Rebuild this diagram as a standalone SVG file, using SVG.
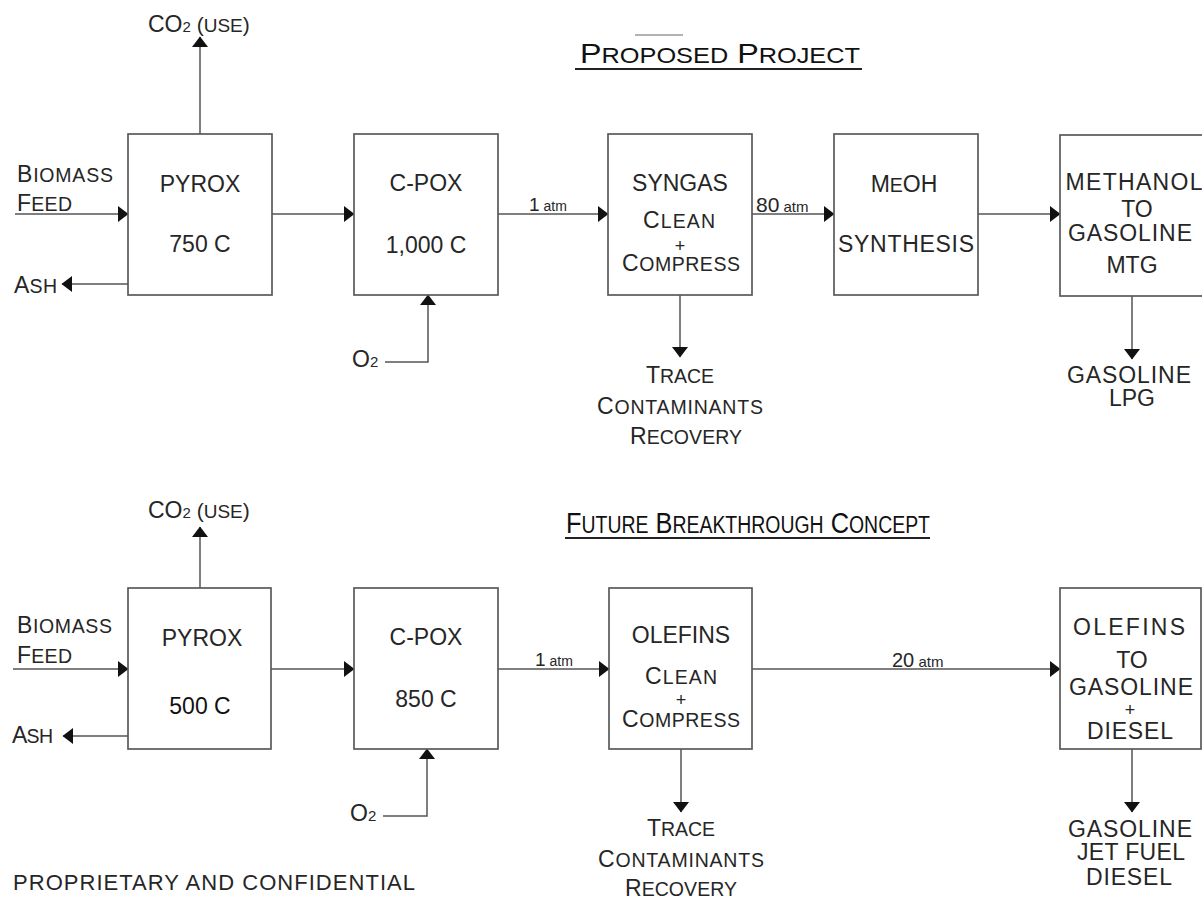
<svg xmlns="http://www.w3.org/2000/svg" width="1202" height="907" viewBox="0 0 1202 907">
<style>
.box{fill:#fff;stroke:#5a5a5a;stroke-width:1.7}
.ln{fill:none;stroke:#555;stroke-width:1.5}
.arr{marker-end:url(#ah)}
.t{font-family:"Liberation Sans",Arial,sans-serif;font-size:23px;fill:#262626;text-anchor:middle}
.l{text-anchor:start}
.s{font-size:19.5px}
.pl{font-size:18px}
.ttl{font-family:"Liberation Sans",Arial,sans-serif;font-size:28px;fill:#111;text-anchor:start}
.ts{font-size:22px}
.ul{stroke:#222;stroke-width:2.2}
</style>
<defs>
<marker id="ah" markerUnits="userSpaceOnUse" markerWidth="11" markerHeight="16" refX="10" refY="8" orient="auto" viewBox="0 0 11 16"><path d="M0,0 L10.5,8 L0,16 z" fill="#111"/></marker>
</defs>
<rect width="1202" height="907" fill="#fff"/>

<!-- titles -->
<g id="title-top">
<line x1="635" y1="35" x2="683" y2="35" stroke="#999" stroke-width="1.5"/>
<text class="ttl" x="580" y="63" textLength="280" lengthAdjust="spacingAndGlyphs">P<tspan class="ts">ROPOSED</tspan> P<tspan class="ts">ROJECT</tspan></text>
<line class="ul" x1="575" y1="69" x2="862" y2="69"/>
</g>
<g id="title-bottom">
<text class="ttl" x="566" y="533" textLength="364" lengthAdjust="spacingAndGlyphs" style="font-size:30px">F<tspan style="font-size:23px">UTURE</tspan> B<tspan style="font-size:23px">REAKTHROUGH</tspan> C<tspan style="font-size:23px">ONCEPT</tspan></text>
<line class="ul" x1="565" y1="538" x2="930" y2="538"/>
</g>

<!-- connectors -->
<g id="connectors">
<path class="ln arr" d="M15,214 H128"/>
<path class="ln arr" d="M128,284 H62"/>
<path class="ln arr" d="M200,134 V37"/>
<path class="ln arr" d="M272,214 H354"/>
<path class="ln arr" d="M385,362 H428 V295"/>
<path class="ln arr" d="M498,214 H608"/>
<path class="ln arr" d="M752,214 H834"/>
<path class="ln arr" d="M978,214 H1060"/>
<path class="ln arr" d="M680,295 V357"/>
<path class="ln arr" d="M1132,296 V359"/>

<path class="ln arr" d="M13,669 H128"/>
<path class="ln arr" d="M128,736 H63"/>
<path class="ln arr" d="M200,588 V527"/>
<path class="ln arr" d="M271,669 H354"/>
<path class="ln arr" d="M383,816 H427 V749"/>
<path class="ln arr" d="M498,669 H609"/>
<path class="ln arr" d="M752,669 H1060"/>
<path class="ln arr" d="M681,749 V812"/>
<path class="ln arr" d="M1132,749 V812"/>
</g>

<!-- top row nodes -->
<g id="pyrox-top">
<rect class="box" x="128" y="134" width="144" height="161"/>
<text class="t" x="200" y="192">PYROX</text>
<text class="t" x="200" y="252">750 C</text>
</g>
<g id="cpox-top">
<rect class="box" x="354" y="134" width="144" height="161"/>
<text class="t" x="426" y="191">C-POX</text>
<text class="t" x="426" y="253">1,000 C</text>
</g>
<g id="syngas-top">
<rect class="box" x="608" y="134" width="144" height="161"/>
<text class="t" x="680" y="191">SYNGAS</text>
<text class="t" x="679" y="228" textLength="72">C<tspan class="s">LEAN</tspan></text>
<text class="t pl" x="680" y="252">+</text>
<text class="t" x="681" y="271" textLength="118">C<tspan class="s">OMPRESS</tspan></text>
</g>
<g id="meoh-top">
<rect class="box" x="834" y="134" width="144" height="161"/>
<text class="t" x="904" y="192">M<tspan class="s">E</tspan>OH</text>
<text class="t" x="906" y="252" textLength="136">SYNTHESIS</text>
</g>
<g id="mtg-top">
<rect class="box" x="1060" y="135" width="150" height="161"/>
<text class="t" x="1134" y="190" textLength="137">METHANOL</text>
<text class="t" x="1137" y="217">TO</text>
<text class="t" x="1130" y="241" textLength="124">GASOLINE</text>
<text class="t" x="1132" y="273">MTG</text>
</g>

<!-- top row labels -->
<g id="labels-top">
<text class="t l" x="148" y="32" style="font-size:23px">CO<tspan style="font-size:15px">2</tspan><tspan style="font-size:21px"> (</tspan><tspan style="font-size:19px">USE</tspan><tspan style="font-size:21px">)</tspan></text>
<text class="t l" x="17" y="182" textLength="96">B<tspan class="s">IOMASS</tspan></text>
<text class="t l" x="17" y="211" textLength="55">F<tspan class="s">EED</tspan></text>
<text class="t l" x="14" y="293" textLength="43">A<tspan class="s">SH</tspan></text>
<text class="t l" x="352" y="367">O<tspan style="font-size:15px">2</tspan></text>
<text class="t l" x="529" y="211" style="font-size:19px">1<tspan style="font-size:14px"> atm</tspan></text>
<text class="t l" x="756" y="212" style="font-size:21px">80<tspan style="font-size:15px"> atm</tspan></text>
<text class="t" x="680" y="383" textLength="68">T<tspan class="s">RACE</tspan></text>
<text class="t" x="680" y="414" textLength="166">C<tspan class="s">ONTAMINANTS</tspan></text>
<text class="t" x="686" y="444" textLength="112">R<tspan class="s">ECOVERY</tspan></text>
<text class="t" x="1129" y="383" textLength="124">GASOLINE</text>
<text class="t" x="1132" y="406">LPG</text>
</g>

<!-- bottom row nodes -->
<g id="pyrox-bottom">
<rect class="box" x="128" y="588" width="143" height="161"/>
<text class="t" x="202" y="646">PYROX</text>
<text class="t" x="200" y="714" style="fill:#111">500 C</text>
</g>
<g id="cpox-bottom">
<rect class="box" x="354" y="588" width="144" height="161"/>
<text class="t" x="426" y="645">C-POX</text>
<text class="t" x="426" y="707">850 C</text>
</g>
<g id="olefins-bottom">
<rect class="box" x="609" y="588" width="143" height="161"/>
<text class="t" x="681" y="643">OLEFINS</text>
<text class="t" x="681" y="684" textLength="72">C<tspan class="s">LEAN</tspan></text>
<text class="t pl" x="681" y="706">+</text>
<text class="t" x="681" y="727" textLength="118">C<tspan class="s">OMPRESS</tspan></text>
</g>
<g id="otg-bottom">
<rect class="box" x="1060" y="588" width="141" height="161"/>
<text class="t" x="1129" y="635" textLength="112">OLEFINS</text>
<text class="t" x="1132" y="668">TO</text>
<text class="t" x="1131" y="695" textLength="124">GASOLINE</text>
<text class="t pl" x="1130" y="716">+</text>
<text class="t" x="1130" y="739" textLength="86">DIESEL</text>
</g>

<!-- bottom row labels -->
<g id="labels-bottom">
<text class="t l" x="148" y="518" style="font-size:23px">CO<tspan style="font-size:15px">2</tspan><tspan style="font-size:21px"> (</tspan><tspan style="font-size:19px">USE</tspan><tspan style="font-size:21px">)</tspan></text>
<text class="t l" x="17" y="633" textLength="95">B<tspan class="s">IOMASS</tspan></text>
<text class="t l" x="17" y="663" textLength="55">F<tspan class="s">EED</tspan></text>
<text class="t l" x="12" y="743" textLength="41">A<tspan class="s">SH</tspan></text>
<text class="t l" x="350" y="821">O<tspan style="font-size:15px">2</tspan></text>
<text class="t l" x="535" y="666" style="font-size:19px">1<tspan style="font-size:14px"> atm</tspan></text>
<text class="t l" x="892" y="667" style="font-size:20px">20<tspan style="font-size:15px"> atm</tspan></text>
<text class="t" x="681" y="836" textLength="68">T<tspan class="s">RACE</tspan></text>
<text class="t" x="681" y="867" textLength="166">C<tspan class="s">ONTAMINANTS</tspan></text>
<text class="t" x="681" y="896" textLength="112">R<tspan class="s">ECOVERY</tspan></text>
<text class="t" x="1130" y="837" textLength="124">GASOLINE</text>
<text class="t" x="1131" y="860" textLength="108">JET FUEL</text>
<text class="t" x="1129" y="885" textLength="86">DIESEL</text>
<text class="t l" x="13" y="890" textLength="402" style="font-size:22px">PROPRIETARY AND CONFIDENTIAL</text>
</g>
</svg>
